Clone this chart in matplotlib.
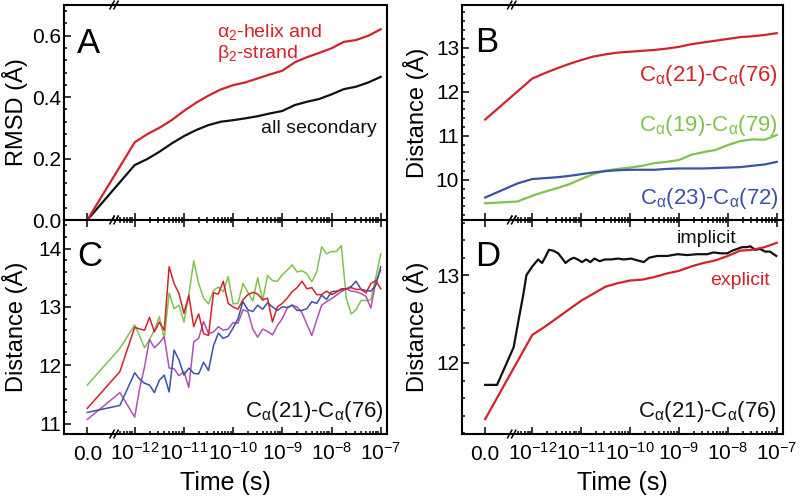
import numpy as np
import matplotlib
matplotlib.use("Agg")
import matplotlib.pyplot as plt
from matplotlib.ticker import AutoMinorLocator

plt.rcParams['font.family'] = ['Liberation Sans', 'DejaVu Sans']
plt.rcParams['mathtext.fontset'] = 'custom'
plt.rcParams['mathtext.rm'] = 'Liberation Sans'
plt.rcParams['mathtext.it'] = 'Liberation Sans:italic'
plt.rcParams['mathtext.bf'] = 'Liberation Sans:bold'
plt.rcParams['mathtext.sf'] = 'Liberation Sans'

RED = '#d2232a'
GREEN = '#80c24e'
BLUE = '#3a53a4'
PURPLE = '#b24fb4'
BLACK = '#111111'

# ---------------- data ----------------
# common log10(time / s) grid for smooth curves
grid_exp = [-12.0, -11.75, -11.5, -11.25, -11.0, -10.75, -10.5, -10.25, -10.0,
            -9.75, -9.5, -9.25, -9.0, -8.75, -8.5, -8.25, -8.0, -7.75, -7.5,
            -7.25, -7.0]

# Panel A (RMSD)
A_red = [0.0, 0.253, 0.279, 0.300, 0.325, 0.355, 0.382, 0.405, 0.425, 0.439,
         0.448, 0.461, 0.474, 0.486, 0.513, 0.530, 0.544, 0.559, 0.580, 0.586,
         0.600, 0.621]
A_black = [0.0, 0.179, 0.198, 0.222, 0.249, 0.273, 0.293, 0.309, 0.320, 0.325,
           0.331, 0.338, 0.347, 0.355, 0.374, 0.385, 0.394, 0.409, 0.426, 0.434,
           0.448, 0.466]

# Panel B (distances)
B_red = [11.37, 12.30, 12.42, 12.53, 12.63, 12.72, 12.80, 12.85, 12.89, 12.91,
         12.93, 12.95, 12.98, 13.02, 13.08, 13.12, 13.16, 13.20, 13.24, 13.26,
         13.29, 13.33]
B_green = [9.47, 9.51, 9.64, 9.73, 9.81, 9.90, 10.02, 10.13, 10.21, 10.25, 10.28,
           10.32, 10.38, 10.41, 10.45, 10.57, 10.63, 10.68, 10.79, 10.88, 10.92,
           10.91, 11.02]
B_blue = [9.60, 9.92, 10.02, 10.04, 10.06, 10.09, 10.13, 10.17, 10.20, 10.22,
          10.23, 10.23, 10.23, 10.25, 10.26, 10.26, 10.26, 10.27, 10.28, 10.29,
          10.32, 10.35, 10.41]

# Panel C (four trajectories), fine grid in log10(time)
C_exp = [-12.0, -11.9, -11.8, -11.7, -11.6, -11.5, -11.4, -11.3, -11.2, -11.1,
         -11.0, -10.9, -10.8, -10.7, -10.6, -10.5, -10.4, -10.3, -10.2, -10.1,
         -10.0, -9.9, -9.8, -9.7, -9.6, -9.5, -9.4, -9.3, -9.2, -9.1,
         -9.0, -8.9, -8.8, -8.7, -8.6, -8.5, -8.4, -8.3, -8.2, -8.1,
         -8.0, -7.9, -7.8, -7.7, -7.6, -7.5, -7.4, -7.3, -7.2, -7.1, -7.0]
C_red = [11.26, 11.89,
         12.65, 12.62, 12.60, 12.82, 12.57, 12.74, 12.60, 13.69, 13.40, 13.23,
         12.89, 13.20, 12.66, 12.88, 12.54, 12.51, 13.24, 13.22, 13.44, 13.06,
         13.00, 12.96, 13.12, 13.21, 13.25, 13.22, 13.12, 13.15, 12.74, 13.00,
         13.06, 13.15, 13.26, 13.33, 13.44, 13.31, 13.33, 13.21, 13.21, 13.27,
         13.21, 13.25, 13.31, 13.31, 13.33, 13.30, 13.30, 13.24, 13.40, 13.45,
         13.31]
C_green = [11.66, 12.29,
           12.69, 12.50, 12.30, 12.44, 12.60, 12.83, 12.46, 13.24, 12.97, 13.03,
           12.74, 13.20, 13.79, 13.40, 13.15, 13.05, 13.28, 13.34, 13.26, 13.52,
           13.05, 13.06, 13.40, 13.25, 13.10, 13.50, 13.11, 13.54, 13.45, 13.44,
           13.55, 13.63, 13.72, 13.60, 13.62, 13.57, 13.43, 13.60, 14.03, 13.91,
           13.95, 13.95, 14.05, 13.15, 12.88, 12.95, 13.11, 13.11, 13.12, 13.50,
           13.91]
C_purple = [11.07, 11.53,
            11.11, 11.60, 11.97, 12.44, 12.30, 12.38, 12.49, 11.95, 11.94, 11.82,
            11.89, 11.62, 12.40, 12.46, 12.75, 12.54, 12.57, 12.66, 12.60, 12.62,
            12.73, 12.72, 12.95, 12.92, 12.62, 12.48, 12.62, 12.58, 12.52, 12.68,
            12.80, 12.98, 13.03, 13.00, 12.90, 12.70, 12.51, 12.78, 13.03, 13.09,
            13.14, 13.20, 13.26, 13.31, 13.27, 13.26, 13.23, 13.18, 12.98, 13.43,
            13.63]
C_blue = [11.19, 11.31,
          11.87, 11.76, 11.69, 11.66, 11.53, 11.74, 11.83, 11.54, 12.26, 12.09,
          11.83, 11.95, 11.86, 11.85, 12.05, 11.91, 12.33, 12.55, 12.46, 12.50,
          12.64, 12.80, 13.09, 12.95, 12.92, 13.03, 12.96, 13.07, 13.00, 12.94,
          13.00, 12.99, 13.03, 12.94, 12.94, 12.97, 13.09, 13.06, 13.20, 13.13,
          13.26, 13.27, 13.29, 13.31, 13.35, 13.44, 13.30, 13.28, 13.27, 13.37,
          13.69]

# Panel D (explicit vs implicit solvent)
D_explicit = [11.36, 12.32, 12.41, 12.51, 12.61, 12.71, 12.79, 12.87, 12.91,
              12.94, 12.95, 12.98, 13.02, 13.05, 13.10, 13.14, 13.17, 13.22,
              13.28, 13.29, 13.32, 13.37]
D_imp_exp = [-12.38, -12.28, -12.18, -12.12, -12.0, -11.88, -11.80, -11.73,
             -11.66, -11.57, -11.47, -11.40, -11.32, -11.23, -11.15, -11.07,
             -10.98, -10.90, -10.81, -10.73, -10.62, -10.52, -10.39, -10.25,
             -10.12, -9.98, -9.85, -9.72, -9.61, -9.44, -9.24, -9.03, -8.83,
             -8.63, -8.42, -8.29, -8.15, -8.01, -7.91, -7.81, -7.71, -7.62,
             -7.54, -7.44, -7.34, -7.24, -7.14, -7.01]
D_implicit = [11.75, 11.75,
              12.18, 12.49, 12.79, 13.00, 13.10, 13.18, 13.14, 13.21, 13.29,
              13.28, 13.25, 13.20, 13.14, 13.18, 13.20, 13.18, 13.15, 13.18,
              13.15, 13.19, 13.16, 13.18, 13.18, 13.19, 13.18, 13.19, 13.17,
              13.15, 13.20, 13.22, 13.22, 13.24, 13.23, 13.24, 13.24, 13.26,
              13.25, 13.25, 13.28, 13.30, 13.32, 13.32, 13.33, 13.29, 13.30,
              13.27, 13.27, 13.22]

x_tick_vals = [0.0, 1e-12, 1e-11, 1e-10, 1e-9, 1e-8, 1e-7]
x_tick_labels = ['0.0', '$10^{-12}$', '$10^{-11}$', '$10^{-10}$',
                 '$10^{-9}$', '$10^{-8}$', '$10^{-7}$']

# time arrays
t_grid = np.concatenate([[0.0], 10.0 ** np.array(grid_exp)])
t_grid_half = np.concatenate([[0.0, 5e-13], 10.0 ** np.array(grid_exp)])
t_C = np.concatenate([[0.0, 5e-13], 10.0 ** np.array(C_exp)])
t_D_imp = np.concatenate([[0.0, 1.7e-13], 10.0 ** np.array(D_imp_exp)])

# ---------------- figure ----------------
W, H = 802, 500
fig = plt.figure(figsize=(W / 100, H / 100), dpi=100)

LT = 10 ** -12.42          # axis break position (end of linear part)
LINSCALE = 0.543 * 0.9     # linear part spans ~0.54 decade
XMIN = -0.873 * LT
XMAX = 10 ** -6.872


def make_ax(l, r, t, b):
    return fig.add_axes([l / W, 1 - b / H, (r - l) / W, (b - t) / H])


axA = make_ax(64, 387, 5, 220)
axC = make_ax(64, 387, 220, 434)
axB = make_ax(462, 783, 5, 220)
axD = make_ax(462, 783, 220, 434)

minor_x = [m * 10.0 ** k for k in range(-13, -7) for m in range(2, 10)]
minor_x = [v for v in minor_x if 4.5e-13 < v < XMAX]


def style(ax, top_panel):
    ax.set_xscale('symlog', linthresh=LT, linscale=LINSCALE, base=10)
    ax.set_xlim(XMIN, XMAX)
    ax.set_xticks(x_tick_vals)
    ax.set_xticks(minor_x, minor=True)
    for s in ax.spines.values():
        s.set_linewidth(1.5)
    ax.yaxis.set_minor_locator(AutoMinorLocator(5))
    ax.tick_params(which='both', direction='in', right=False, left=True,
                   bottom=True, top=not top_panel, width=1.1)
    ax.tick_params(which='major', length=5)
    ax.tick_params(which='minor', length=2.5)
    ax.tick_params(axis='y', labelsize=15, pad=2)
    if top_panel:
        ax.tick_params(axis='x', labelbottom=False)
    else:
        ax.set_xticklabels(x_tick_labels)
        ax.tick_params(axis='x', labelsize=15, pad=18.5)
        for lab in ax.get_xticklabels():
            lab.set_verticalalignment('baseline')
        ax.set_xlabel('Time (s)', fontsize=18)
        ax.xaxis.label.set_verticalalignment('baseline')
        ax.xaxis.set_label_coords(0.5, -0.262)
    # axis-break marks
    xb = ax.transAxes.inverted().transform(ax.transData.transform((LT, 0)))[0]
    bb = ax.get_position()
    pw, ph = bb.width * W, bb.height * H
    for yy in (0.0, 1.0):
        for off in (-2.0, 2.0):
            x0 = xb + (off - 2.5) / pw
            x1 = xb + (off + 2.5) / pw
            ax.plot([x0, x1], [yy - 4.5 / ph, yy + 4.5 / ph],
                    transform=ax.transAxes, color='black', lw=1.1,
                    clip_on=False, solid_capstyle='butt')


def set_ylab(ax, text, xfrac):
    ax.set_ylabel(text, fontsize=17)
    ax.yaxis.label.set_verticalalignment('center')
    ax.yaxis.set_label_coords(xfrac, 0.5)


for ax, top in ((axA, True), (axB, True), (axC, False), (axD, False)):
    style(ax, top)

# ---- Panel A ----
axA.plot(t_grid, A_black, color=BLACK, lw=1.6)
axA.plot(t_grid, A_red, color=RED, lw=1.6)
axA.set_ylim(0.0, 0.70)
axA.set_yticks([0.0, 0.2, 0.4, 0.6])
axA.set_yticklabels(['0.0', '0.2', '0.4', '0.6'])
set_ylab(axA, 'RMSD (Å)', -0.153)
axA.text(0.04, 0.777, 'A', transform=axA.transAxes, fontsize=25,
         va='baseline', ha='left')
axA.text(0.474, 0.853, 'α$_2$-helix and', transform=axA.transAxes,
         fontsize=14, color=RED, va='baseline', ha='left')
axA.text(0.474, 0.752, 'β$_2$-strand', transform=axA.transAxes,
         fontsize=14, color=RED, va='baseline', ha='left')
axA.text(0.609, 0.403, 'all secondary', transform=axA.transAxes,
         fontsize=14, color=BLACK, va='baseline', ha='left')

# ---- Panel B ----
axB.plot(t_grid, B_red, color=RED, lw=1.6)
axB.plot(t_grid_half, B_green, color=GREEN, lw=1.6)
axB.plot(t_grid_half, B_blue, color=BLUE, lw=1.6)
axB.set_ylim(9.09, 13.97)
axB.set_yticks([10, 11, 12, 13])
set_ylab(axB, 'Distance (Å)', -0.143)
axB.text(0.04, 0.781, 'B', transform=axB.transAxes, fontsize=25,
         va='baseline', ha='left')
lab = 'C$_{\\mathrm{α}}$(%s)-C$_{\\mathrm{α}}$(%s)'
axB.text(0.985, 0.647, lab % ('21', '76'), transform=axB.transAxes,
         fontsize=16, color=RED, va='baseline', ha='right')
axB.text(0.985, 0.414, lab % ('19', '79'), transform=axB.transAxes,
         fontsize=16, color=GREEN, va='baseline', ha='right')
axB.text(0.985, 0.074, lab % ('23', '72'), transform=axB.transAxes,
         fontsize=16, color=BLUE, va='baseline', ha='right')

# ---- Panel C ----
axC.plot(t_C, C_green, color=GREEN, lw=1.1)
axC.plot(t_C, C_purple, color=PURPLE, lw=1.1)
axC.plot(t_C, C_blue, color=BLUE, lw=1.1)
axC.plot(t_C, C_red, color=RED, lw=1.1)
axC.set_ylim(10.82, 14.49)
axC.set_yticks([11, 12, 13, 14])
set_ylab(axC, 'Distance (Å)', -0.153)
axC.text(0.04, 0.785, 'C', transform=axC.transAxes, fontsize=25,
         va='baseline', ha='left')
axC.text(0.99, 0.081, lab % ('21', '76'), transform=axC.transAxes,
         fontsize=16, color=BLACK, va='baseline', ha='right')

# ---- Panel D ----
axD.plot(t_D_imp, D_implicit, color=BLACK, lw=1.6)
axD.plot(t_grid, D_explicit, color=RED, lw=1.6)
axD.set_ylim(11.19, 13.63)
axD.set_yticks([12, 13])
set_ylab(axD, 'Distance (Å)', -0.143)
axD.text(0.04, 0.785, 'D', transform=axD.transAxes, fontsize=25,
         va='baseline', ha='left')
axD.text(0.670, 0.894, 'implicit', transform=axD.transAxes,
         fontsize=14, color=BLACK, va='baseline', ha='left')
axD.text(0.773, 0.696, 'explicit', transform=axD.transAxes,
         fontsize=14, color=RED, va='baseline', ha='left')
axD.text(0.98, 0.081, lab % ('21', '76'), transform=axD.transAxes,
         fontsize=16, color=BLACK, va='baseline', ha='right')

fig.savefig('out.png', dpi=100)
